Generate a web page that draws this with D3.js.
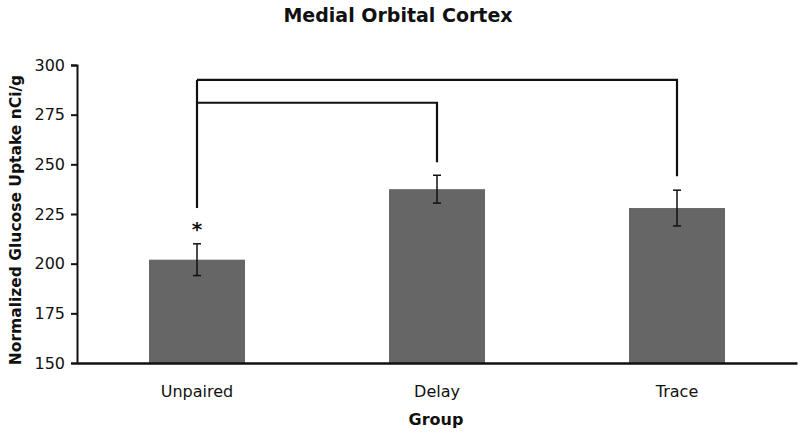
<!DOCTYPE html>
<html>
<head>
<meta charset="utf-8">
<script src="https://cdn.jsdelivr.net/npm/d3@7"></script>
<style>
  body { margin: 0; background: #fff; }
  text { font-family: "DejaVu Sans", Verdana, sans-serif; fill: #111; }
</style>
</head>
<body>
<div id="chart"></div>
<script>
// data
const groups = ["Unpaired", "Delay", "Trace"]
const means = [202, 237.5, 228]
const errs = [8, 7, 9]
const yTicks = [150, 175, 200, 225, 250, 275, 300]
// significance brackets: [from, to, level, drop at "to"]
const brackets = [
  ["Unpaired", "Delay", 281, 251],
  ["Unpaired", "Trace", 292.5, 244]
]
const bracketBottom = 228 // lower end of shared left leg
const starAt = 219

const width = 800
const height = 436
const margin = { top: 65, right: 3, bottom: 73, left: 77 }

const svg = d3.select("#chart").append("svg")
  .attr("width", width)
  .attr("height", height)

const x = d3.scaleBand()
  .domain(groups)
  .range([margin.left, width - margin.right])
  .paddingInner(0.6)
  .paddingOuter(0.3)

const y = d3.scaleLinear()
  .domain([150, 300])
  .range([height - margin.bottom, margin.top])

// bars
svg.append("g")
  .selectAll("rect")
  .data(groups)
  .join("rect")
  .attr("x", d => x(d))
  .attr("width", x.bandwidth())
  .attr("y", (d, i) => y(means[i]))
  .attr("height", (d, i) => y(150) - y(means[i]))
  .attr("fill", "#666")

// error bars
const eb = svg.append("g").attr("stroke", "#111").attr("stroke-width", 1.5)
groups.forEach((g, i) => {
  const cx = x(g) + x.bandwidth() / 2
  eb.append("line").attr("x1", cx).attr("x2", cx)
    .attr("y1", y(means[i] + errs[i])).attr("y2", y(means[i] - errs[i]))
  ;[means[i] + errs[i], means[i] - errs[i]].forEach(v => {
    eb.append("line").attr("x1", cx - 4).attr("x2", cx + 4)
      .attr("y1", y(v)).attr("y2", y(v))
  })
})

// brackets
const cxOf = g => x(g) + x.bandwidth() / 2
const br = svg.append("g").attr("fill", "none").attr("stroke", "#111").attr("stroke-width", 2.2)
br.append("line")
  .attr("x1", cxOf("Unpaired")).attr("x2", cxOf("Unpaired"))
  .attr("y1", y(d3.max(brackets, d => d[2]))).attr("y2", y(bracketBottom))
brackets.forEach(([a, b, lvl, drop]) => {
  br.append("path")
    .attr("d", d3.line()([[cxOf(a), y(lvl)], [cxOf(b), y(lvl)], [cxOf(b), y(drop)]]))
})

svg.append("text")
  .attr("x", cxOf("Unpaired"))
  .attr("y", y(starAt) + 10)
  .attr("text-anchor", "middle")
  .style("font-size", "20px")
  .style("font-weight", "bold")
  .text("*")

// axes
const yAxis = svg.append("g")
  .attr("transform", `translate(${margin.left},0)`)
  .call(d3.axisLeft(y).tickValues(yTicks).tickSize(6).tickPadding(6))
yAxis.select(".domain").attr("stroke", "#111").attr("stroke-width", 2)
yAxis.selectAll(".tick line").attr("stroke", "#111").attr("stroke-width", 2)
yAxis.selectAll(".tick text").style("font-size", "16px").style("font-family", "DejaVu Sans").attr("fill", "#222")

const xAxis = svg.append("g")
  .attr("transform", `translate(0,${y(150)})`)
  .call(d3.axisBottom(x).tickSize(0).tickPadding(23))
xAxis.select(".domain").attr("stroke", "#111").attr("stroke-width", 2.5)
xAxis.selectAll(".tick text").style("font-size", "16px").style("font-family", "DejaVu Sans").attr("fill", "#222")

// titles
svg.append("text")
  .attr("x", 398).attr("y", 22)
  .attr("text-anchor", "middle")
  .style("font-size", "19px").style("font-weight", "bold")
  .text("Medial Orbital Cortex")

svg.append("text")
  .attr("x", 436).attr("y", 425)
  .attr("text-anchor", "middle")
  .style("font-size", "16px").style("font-weight", "bold")
  .text("Group")

svg.append("text")
  .attr("transform", `translate(21,${(y(150) + y(300)) / 2 + 6}) rotate(-90)`)
  .attr("text-anchor", "middle")
  .style("font-size", "15.5px").style("font-weight", "bold")
  .text("Normalized Glucose Uptake nCi/g")
</script>
</body>
</html>
